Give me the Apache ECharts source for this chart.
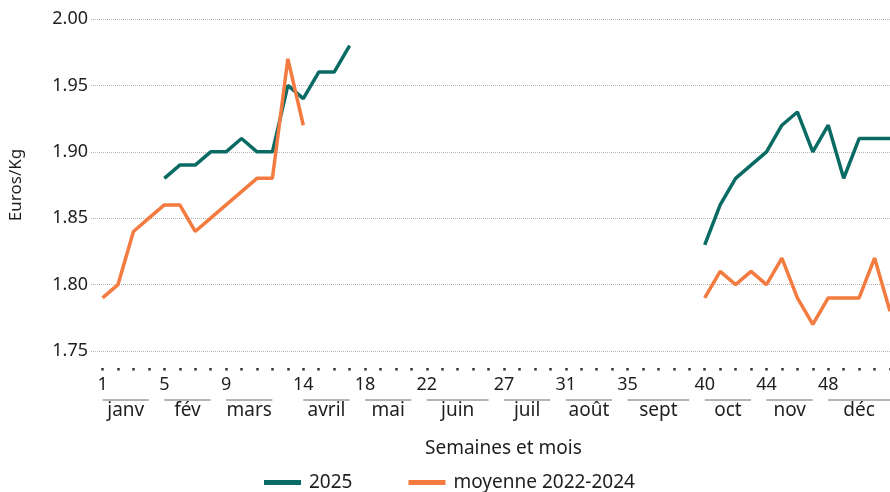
<!DOCTYPE html>
<html>
<head>
<meta charset="utf-8">
<script src="https://cdn.jsdelivr.net/npm/echarts@6/dist/echarts.min.js"></script>
<style>
  html, body { margin: 0; padding: 0; background: #fff; }
  #chart { width: 890px; height: 492px; }
</style>
</head>
<body>
<div id="chart"></div>
<script>
  // semaines 1 à 52
  var semaines = [];
  for (var i = 1; i <= 52; i++) semaines.push(i);

  // prix 2025 (Euros/Kg), null = pas de cotation
  var prix2025 = [
    null, null, null, null,
    1.88, 1.89, 1.89, 1.90, 1.90, 1.91, 1.90, 1.90, 1.95, 1.94, 1.96, 1.96, 1.98,
    null, null, null, null, null, null, null, null, null, null, null,
    null, null, null, null, null, null, null, null, null, null, null,
    1.83, 1.86, 1.88, 1.89, 1.90, 1.92, 1.93, 1.90, 1.92, 1.88, 1.91, 1.91, 1.91
  ];
  // moyenne 2022-2024
  var moyenne = [
    1.79, 1.80, 1.84, 1.85, 1.86, 1.86, 1.84, 1.85, 1.86, 1.87, 1.88, 1.88, 1.97, 1.92,
    null, null, null, null, null, null, null, null, null, null, null, null, null,
    null, null, null, null, null, null, null, null, null, null, null, null,
    1.79, 1.81, 1.80, 1.81, 1.80, 1.82, 1.79, 1.77, 1.79, 1.79, 1.79, 1.82, 1.78
  ];

  // étiquettes des semaines (1re semaine de chaque mois)
  var semainesLabel = [1, 5, 9, 14, 18, 22, 27, 31, 35, 40, 44, 48];
  // mois : semaine de début, semaine de fin, nom
  var moisDebut = [1, 5, 9, 14, 18, 22, 27, 31, 35, 40, 44, 48];
  var moisFin = [4, 8, 12, 17, 21, 26, 30, 34, 39, 43, 47, 52];
  var moisNom = ['janv', 'fév', 'mars', 'avril', 'mai', 'juin', 'juil', 'août', 'sept', 'oct', 'nov', 'déc'];

  var police = '"Noto Sans", Lato, sans-serif';
  var teal = '#0a6b65';
  var orange = '#f47b3f';
  var encre = '#1e1e1e';

  function paires(vals) {
    return semaines.map(function (s, k) { return [s, vals[k]]; });
  }

  var moisData = moisNom.map(function (m, k) { return [moisDebut[k], moisFin[k], m]; });

  var myChart = echarts.init(document.getElementById('chart'));
  var option = {
    animation: false,
    textStyle: { fontFamily: police },
    title: {
      text: 'Semaines et mois',
      left: 425,
      top: 439,
      padding: 0,
      textStyle: { fontFamily: police, fontSize: 19, fontWeight: 'normal', color: encre }
    },
    legend: {
      data: ['2025', 'moyenne 2022-2024'],
      left: 264,
      top: 473,
      padding: 0,
      icon: 'rect',
      itemWidth: 37,
      itemHeight: 5,
      itemGap: 56,
      textStyle: { fontFamily: police, fontSize: 19, color: encre, padding: [0, 0, 0, 3] }
    },
    grid: { left: 91, right: 0, top: 19, bottom: 141, containLabel: false },
    xAxis: {
      type: 'value',
      min: 0.25,
      max: 52,
      offset: 17,
      axisLine: { show: false },
      splitLine: { show: false },
      axisTick: {
        show: true,
        customValues: semaines,
        length: 2.5,
        lineStyle: { color: '#333', width: 2.5 }
      },
      axisLabel: {
        customValues: semainesLabel,
        margin: 8,
        fontFamily: police,
        fontSize: 18,
        color: encre
      }
    },
    yAxis: {
      type: 'value',
      min: 1.75,
      max: 2.00,
      interval: 0.05,
      name: 'Euros/Kg',
      nameLocation: 'middle',
      nameGap: 66,
      nameTextStyle: { fontFamily: police, fontSize: 17, color: encre },
      axisLine: { show: false },
      axisTick: { show: false },
      axisLabel: {
        margin: 3,
        fontFamily: police,
        fontSize: 18,
        color: encre,
        formatter: function (v) { return v.toFixed(2); }
      },
      splitLine: { lineStyle: { type: 'dotted', color: '#b5b5b5', width: 1 } }
    },
    series: [
      {
        name: '2025',
        type: 'line',
        data: paires(prix2025),
        showSymbol: false,
        connectNulls: false,
        color: teal,
        lineStyle: { width: 3.5, color: teal }
      },
      {
        name: 'moyenne 2022-2024',
        type: 'line',
        data: paires(moyenne),
        showSymbol: false,
        connectNulls: false,
        color: orange,
        lineStyle: { width: 3.5, color: orange }
      },
      {
        // soulignement + nom des mois sous l'axe
        name: 'mois',
        type: 'custom',
        silent: true,
        clip: false,
        encode: { x: [0, 1] },
        data: moisData,
        renderItem: function (params, api) {
          var d = api.coord([api.value(0), 1.75]);
          var f = api.coord([api.value(1), 1.75]);
          var y = d[1] + 49;
          return {
            type: 'group',
            children: [
              {
                type: 'line',
                shape: { x1: d[0], y1: y, x2: f[0], y2: y },
                style: { stroke: '#6b6b6b', lineWidth: 1 }
              },
              {
                type: 'text',
                x: (d[0] + f[0]) / 2,
                y: y + 1,
                style: {
                  text: moisNom[params.dataIndex],
                  fontFamily: police,
                  fontSize: 19,
                  fill: encre,
                  align: 'center',
                  verticalAlign: 'top'
                }
              }
            ]
          };
        }
      }
    ]
  };
  myChart.setOption(option);
</script>
</body>
</html>
